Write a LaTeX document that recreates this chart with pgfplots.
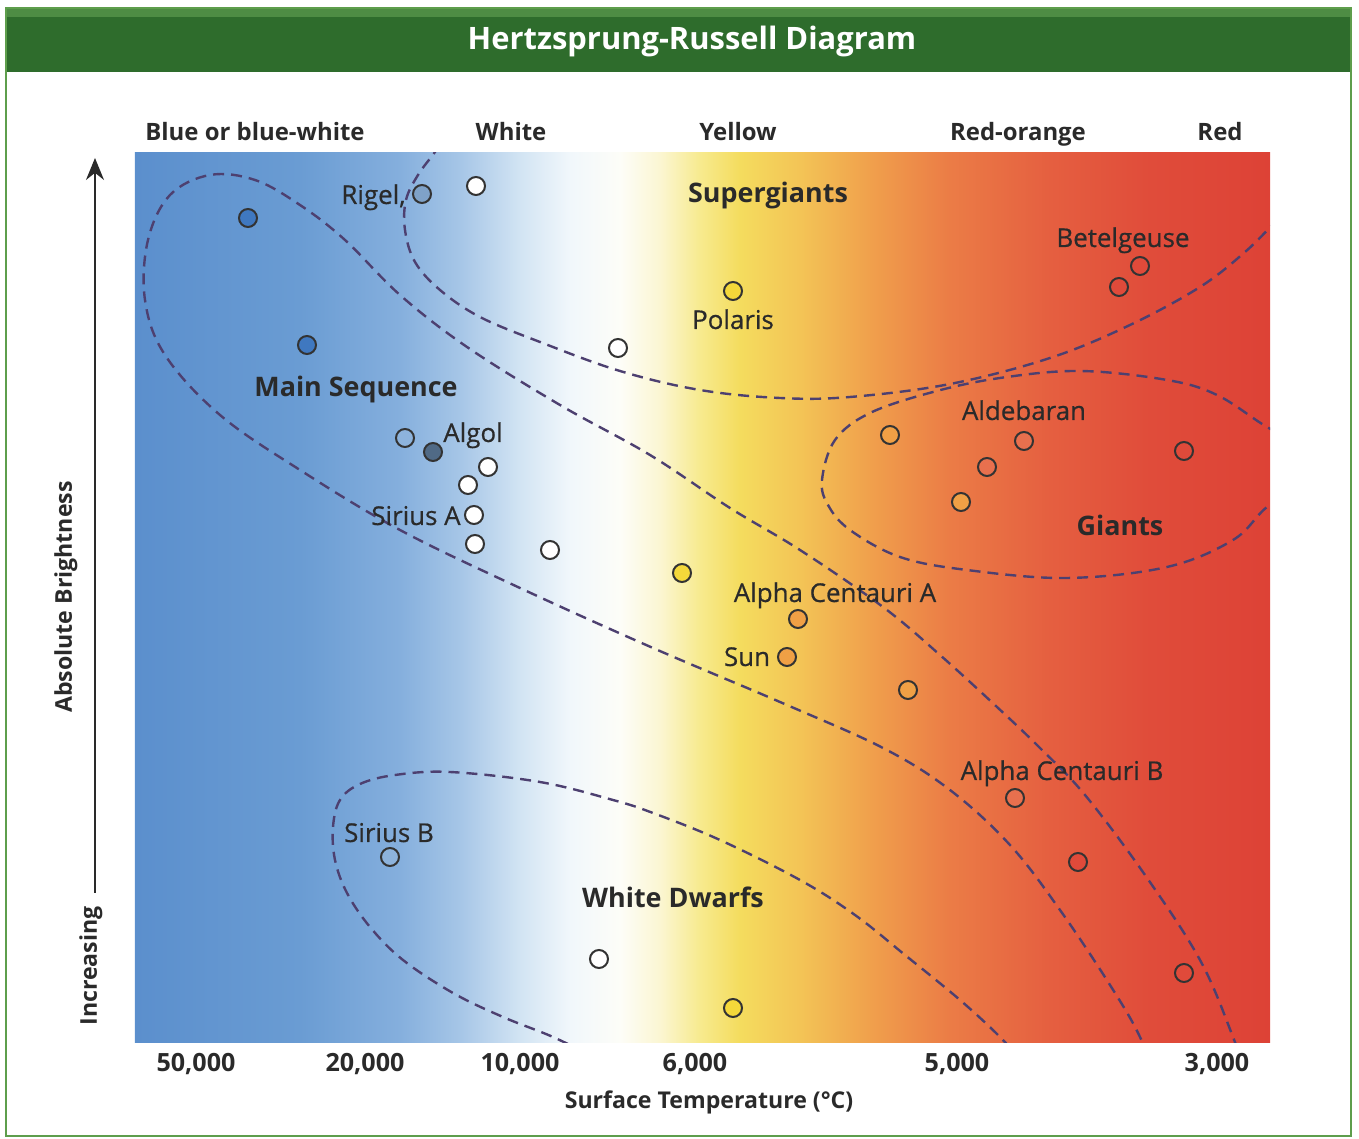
\documentclass[border=0pt]{standalone}
\usepackage{pgfplots}
\pgfplotsset{compat=1.18}
\usepackage{fontspec}
\setmainfont{Open Sans}
\newfontfamily\medfont{Open Sans}[FakeBold=0.6]
\usetikzlibrary{arrows.meta}

\definecolor{g00}{HTML}{5B8FCD}
\definecolor{g01}{HTML}{6A9CD3}
\definecolor{g02}{HTML}{85AFDD}
\definecolor{g03}{HTML}{A6C6E7}
\definecolor{g04}{HTML}{D2E4F3}
\definecolor{g05}{HTML}{F1F7FB}
\definecolor{g06}{HTML}{FDFDF8}
\definecolor{g07}{HTML}{FBF6D2}
\definecolor{g08}{HTML}{F7EA8E}
\definecolor{g09}{HTML}{F4DC5E}
\definecolor{g10}{HTML}{F3C456}
\definecolor{g11}{HTML}{F0A04C}
\definecolor{g12}{HTML}{EB7C46}
\definecolor{g13}{HTML}{E55F40}
\definecolor{g14}{HTML}{E04C3A}
\definecolor{g15}{HTML}{DD4236}

\pgfdeclarehorizontalshading{hrgrad}{100bp}{%
color(0bp)=(g00); color(25bp)=(g00); color(32.27bp)=(g01); color(36.67bp)=(g02);
color(39.32bp)=(g03); color(41.96bp)=(g04); color(44.16bp)=(g05); color(46.37bp)=(g06);
color(48.13bp)=(g07); color(49.89bp)=(g08); color(51.65bp)=(g09); color(54.30bp)=(g10);
color(57.38bp)=(g11); color(60.90bp)=(g12); color(65.31bp)=(g13); color(69.71bp)=(g14);
color(75bp)=(g15); color(100bp)=(g15)}

\definecolor{txt}{HTML}{2A2A2A}
\definecolor{reg}{HTML}{4D4070}
\definecolor{mk}{HTML}{333333}
\definecolor{hdr}{HTML}{2E6C2C}
\definecolor{hdrtop}{HTML}{4E8C44}
\definecolor{frm}{HTML}{5E9E4C}
\definecolor{sblue}{HTML}{3F78C0}
\definecolor{srigel}{HTML}{7FA2C8}
\definecolor{slblue}{HTML}{8DB3DC}
\definecolor{salgol}{HTML}{506A86}
\definecolor{syel}{HTML}{F4D83A}
\definecolor{sorg}{HTML}{F0A045}
\definecolor{sro}{HTML}{E8704E}
\definecolor{sred}{HTML}{E04A3A}

\begin{document}
\begin{tikzpicture}[
  lab/.style={font=\medfont\fontsize{13}{15}\selectfont, text=txt, inner sep=0pt, anchor=base},
  blab/.style={font=\fontsize{13.5}{15}\selectfont\bfseries, text=txt, inner sep=0pt, anchor=base},
  clab/.style={font=\fontsize{12}{14}\selectfont\bfseries, text=txt, inner sep=0pt, anchor=base},
]
\begin{axis}[
  scale only axis, width=567.5bp, height=444.5bp,
  xmin=135, xmax=1270, ymin=97, ymax=986,
  axis line style={draw=none},
  major tick length=0pt,
  xtick={196,365,520,695,957,1217},
  xticklabels={{50,000},{20,000},{10,000},{6,000},{5,000},{3,000}},
  ytick=\empty,
  xticklabel style={font=\fontsize{12.6}{14}\selectfont\bfseries, text=txt, anchor=base, yshift=-14.5bp, inner sep=0pt},
  axis background/.style={shade, shading=hrgrad},
  clip=true, clip mode=individual,
  reg/.style={color=reg, line width=1.2bp, dash pattern=on 5.5bp off 3.5bp, smooth, tension=0.6, mark=none},
  star/.style={only marks, mark=*, mark size=4.5bp, mark options={draw=mk, line width=1bp, fill=#1}},
]
% region boundaries
\addplot[reg] coordinates {(450,1009) (435,987) (418,964) (406,939) (405,909) (415,877) (440,849) (480,822) (540,797) (620,768) (700,749) (780,741) (850,742) (950,755) (1050,781) (1130,814) (1200,852) (1245,887) (1275,917) (1295,939)};
\addplot[reg] coordinates {(1255,39) (1233,102) (1200,179) (1145,264) (1085,344) (1040,391) (997,432) (940,484) (883,532) (800,589) (730,631) (650,684) (560,734) (467,792) (400,844) (345,899) (300,934) (255,959) (210,964) (170,944) (148,899) (145,839) (165,784) (220,724) (300,669) (400,609) (520,551) (653,491) (780,437) (883,391) (950,349) (1010,294) (1060,229) (1110,154) (1140,102) (1160,49)};
\addplot[reg] coordinates {(1310,690) (1267,712) (1217,744) (1167,759) (1080,768) (1000,761) (933,747) (870,726) (835,699) (822,659) (828,634) (850,609) (900,582) (967,569) (1067,561) (1167,572) (1233,599) (1267,632) (1310,660)};
\addplot[reg] coordinates {(600,79) (553,102) (503,122) (453,146) (403,179) (370,212) (347,246) (335,279) (333,312) (340,339) (360,355) (395,364) (450,367) (540,357) (613,339) (653,326) (720,299) (800,259) (855,224) (905,184) (960,139) (1000,102) (1030,69)};
% stars
\addplot[star=sblue] coordinates {(248,921) (307,794)};
\addplot[star=srigel] coordinates {(422,945)};
\addplot[star=white] coordinates {(476,953) (618,791) (488,672) (468,654) (474,624) (475,595) (550,589) (599,180)};
\addplot[star=slblue] coordinates {(405,701) (390,282)};
\addplot[star=salgol] coordinates {(433,687)};
\addplot[star=syel] coordinates {(733,848) (682,566) (733,131)};
\addplot[star=sorg] coordinates {(798,520) (787,482) (908,449) (890,704) (961,637)};
\addplot[star=sro] coordinates {(987,672) (1024,698) (1015,341)};
\addplot[star=sred] coordinates {(1078,277) (1184,166) (1140,873) (1119,852) (1184,688)};
% labels
\node[lab, anchor=base east] at (axis cs:406,935) {Rigel,};
\node[lab] at (axis cs:733,810) {Polaris};
\node[blab] at (axis cs:768,936) {Supergiants};
\node[lab] at (axis cs:1123,892) {Betelgeuse};
\node[blab] at (axis cs:356,742) {Main Sequence};
\node[lab] at (axis cs:473,697) {Algol};
\node[lab] at (axis cs:1024,719) {Aldebaran};
\node[blab] at (axis cs:1120,603) {Giants};
\node[lab, anchor=base east] at (axis cs:461,614) {Sirius A};
\node[lab] at (axis cs:835,537) {Alpha Centauri A};
\node[lab] at (axis cs:747,473) {Sun};
\node[lab] at (axis cs:1062,359) {Alpha Centauri B};
\node[lab] at (axis cs:389,297) {Sirius B};
\node[blab] at (axis cs:673,231) {White Dwarfs};
% colour labels
\node[clab] at (axis cs:255,998) {Blue or blue-white};
\node[clab] at (axis cs:511,998) {White};
\node[clab] at (axis cs:738,998) {Yellow};
\node[clab] at (axis cs:1018,998) {Red-orange};
\node[clab] at (axis cs:1220,998) {Red};
% axis titles
\node[clab, font=\fontsize{11.6}{14}\selectfont\bfseries] at (axis cs:709,31) {Surface Temperature (°C)};
\node[clab, rotate=90, font=\fontsize{11.6}{14}\selectfont\bfseries] at (axis cs:72,542) {Absolute Brightness};
\node[clab, rotate=90, font=\fontsize{11.6}{14}\selectfont\bfseries] at (axis cs:97,173) {Increasing};
\draw[line width=0.9bp, txt, -{Stealth[length=11bp, width=9bp]}] (axis cs:95,246) -- (axis cs:95,981);
% header and frame
\fill[hdr] (axis cs:5,1131) rectangle (axis cs:1352,1067);
\fill[hdrtop] (axis cs:5,1131) rectangle (axis cs:1352,1122);
\node[font=\fontsize{15.5}{17}\selectfont\bfseries, text=white, inner sep=0pt, anchor=base] at (axis cs:692,1089) {Hertzsprung-Russell Diagram};
\draw[frm, line width=1bp] (axis cs:6,1131) rectangle (axis cs:1351,3);
\path (axis cs:0,0) rectangle (axis cs:1359,1139);
\end{axis}
\end{tikzpicture}
\end{document}
